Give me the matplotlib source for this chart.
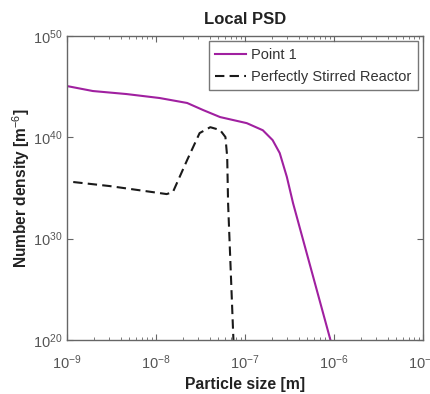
import numpy as np
import matplotlib
matplotlib.use("Agg")
import matplotlib.pyplot as plt
from matplotlib.ticker import LogLocator, NullLocator, NullFormatter

plt.rcParams['font.family'] = ['Liberation Sans', 'DejaVu Sans']
plt.rcParams['mathtext.fontset'] = 'custom'
plt.rcParams['mathtext.rm'] = 'Liberation Sans'
plt.rcParams['mathtext.it'] = 'Liberation Sans:italic'
plt.rcParams['mathtext.bf'] = 'Liberation Sans:bold'

# Point 1 (log10 values)
p1_logx = [-9.0, -8.71, -8.33, -7.96, -7.65, -7.47, -7.28, -7.13, -6.98, -6.80,
           -6.69, -6.61, -6.53, -6.46, -6.04, -6.02]
p1_logy = [45.06, 44.57, 44.27, 43.88, 43.39, 42.69, 42.0, 41.7, 41.4, 40.7,
           39.73, 38.45, 36.1, 33.5, 20.0, 19.5]

# Perfectly Stirred Reactor
psr_logx = [-8.93, -8.52, -7.88, -7.81, -7.65, -7.51, -7.39, -7.28, -7.22,
            -7.20, -7.19, -7.13, -7.125]
psr_logy = [35.59, 35.19, 34.4, 34.6, 37.76, 40.42, 41.0, 40.72, 40.03,
            38.06, 33.5, 20.0, 19.5]

p1_x = 10.0 ** np.array(p1_logx)
p1_y = 10.0 ** np.array(p1_logy)
psr_x = 10.0 ** np.array(psr_logx)
psr_y = 10.0 ** np.array(psr_logy)

fig = plt.figure(figsize=(4.3, 3.94), dpi=100)
ax = fig.add_axes([67 / 430, 1 - 340 / 394, (423 - 67) / 430, (340 - 36) / 394])

ax.loglog(p1_x, p1_y, color='#a020a0', lw=1.5, label='Point 1')
ax.loglog(psr_x, psr_y, color='#1a1a1a', lw=1.5, ls=(0, (4.5, 2.5)),
          label='Perfectly Stirred Reactor')

ax.set_xlim(1e-9, 1e-5)
ax.set_ylim(1e20, 1e50)
ax.set_xticks([1e-9, 1e-8, 1e-7, 1e-6, 1e-5])
ax.set_yticks([1e20, 1e30, 1e40, 1e50])
ax.xaxis.set_minor_locator(LogLocator(base=10, subs=np.arange(2, 10), numticks=20))
ax.xaxis.set_minor_formatter(NullFormatter())
ax.yaxis.set_minor_locator(NullLocator())

gray = '#555555'
for s in ax.spines.values():
    s.set_color('#666666')
    s.set_linewidth(1.0)
ax.tick_params(which='both', direction='in', top=True, right=True,
               colors='#666666', labelcolor=gray, labelsize=10.5)
ax.tick_params(which='major', length=4)
ax.tick_params(which='minor', length=2)
ax.tick_params(axis='x', pad=10)
ax.tick_params(axis='y', pad=3)

ax.set_title('Local PSD', fontsize=12, fontweight='bold', color='#222222', pad=9)
ax.set_xlabel('Particle size [m]', fontsize=11.3, fontweight='bold', color='#222222', labelpad=3)
ax.set_ylabel('Number density [m$^{-6}$]', fontsize=11.2, fontweight='bold',
              color='#222222', labelpad=1)

leg = ax.legend(loc='upper right', fontsize=10.5, frameon=True, fancybox=False,
                handlelength=2.1, borderpad=0.45, labelspacing=0.55,
                borderaxespad=0.35, handletextpad=0.35)
leg.get_frame().set_edgecolor('#555555')
leg.get_frame().set_linewidth(1.0)
for t in leg.get_texts():
    t.set_color('#333333')

fig.savefig('out.png', dpi=100)
